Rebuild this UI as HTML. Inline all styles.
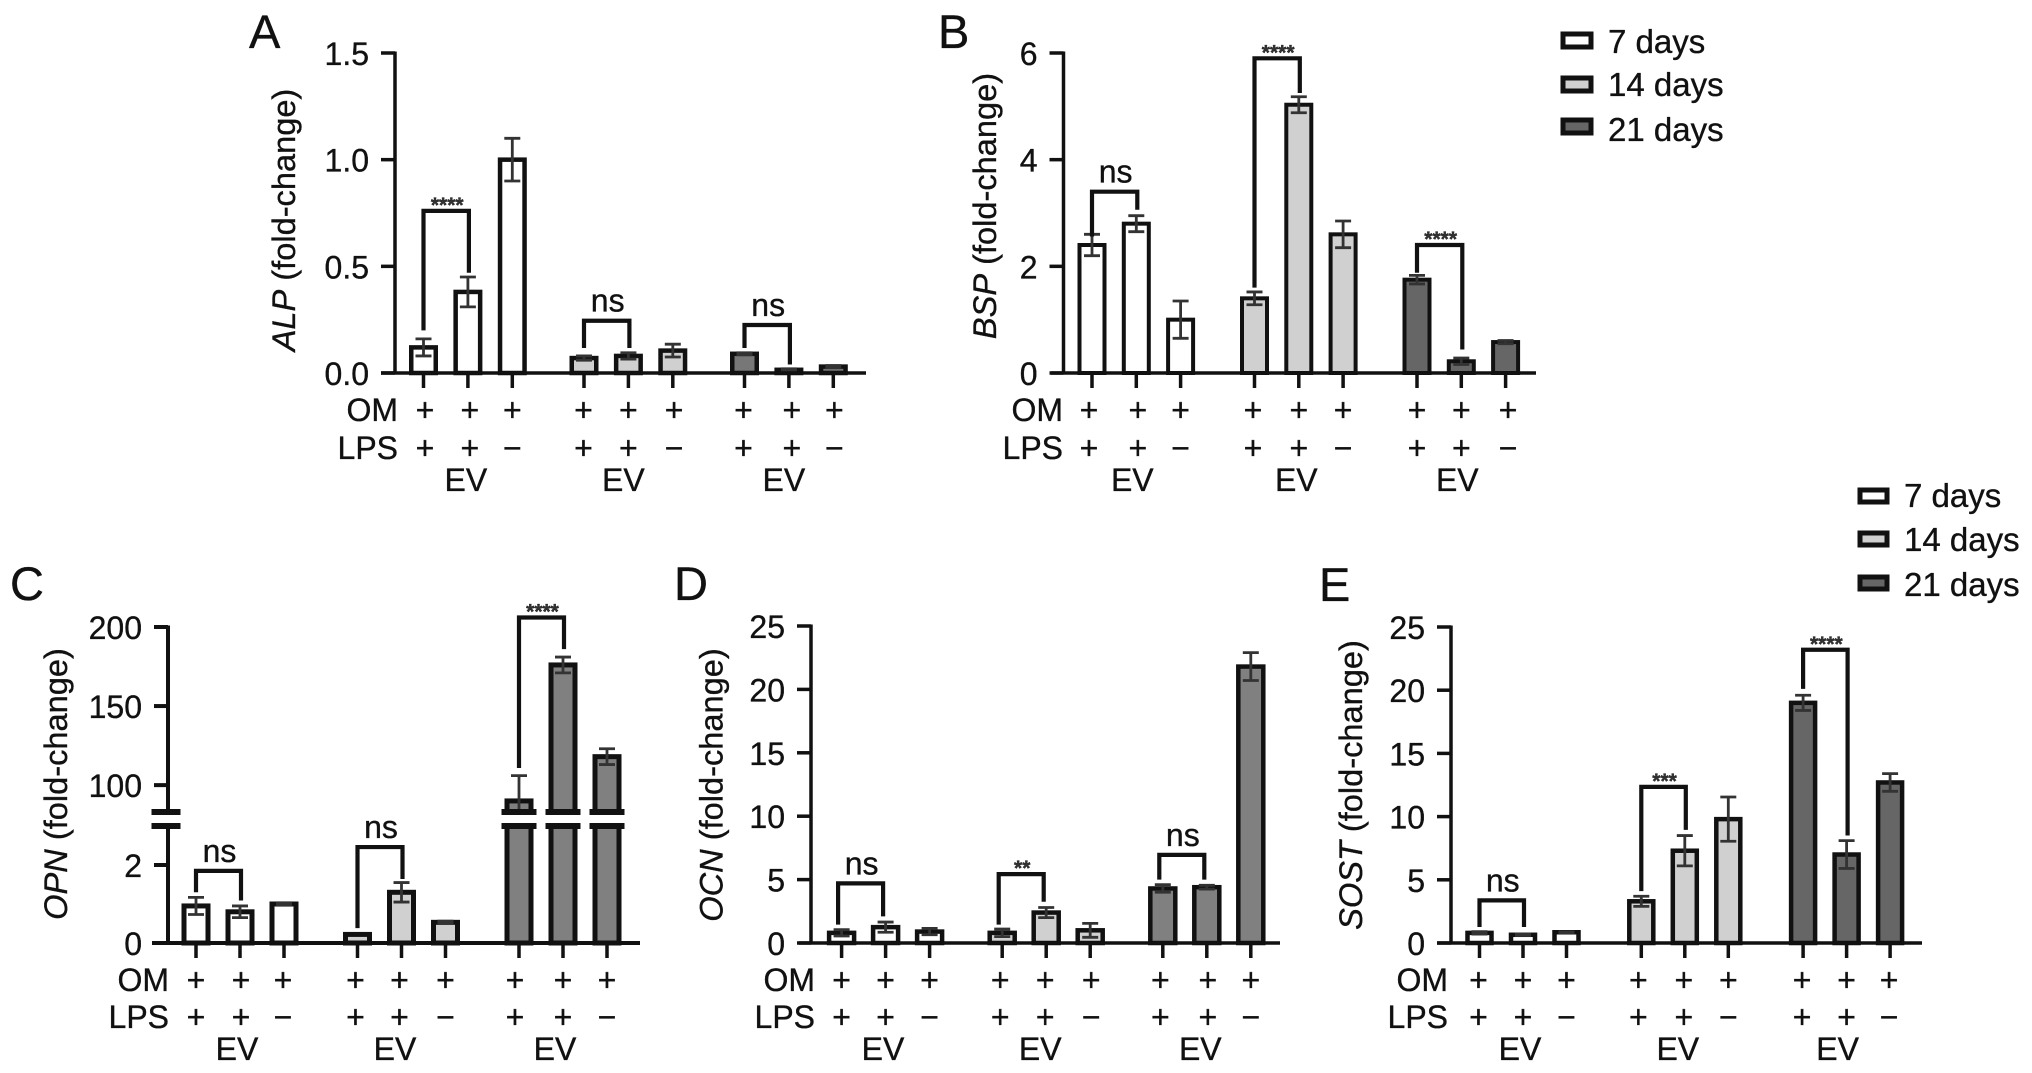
<!DOCTYPE html>
<html lang="en">
<head>
<meta charset="utf-8">
<title>Fold-change bar charts</title>
<style>
html,body{margin:0;padding:0;background:#fff;}
svg{display:block;}
text{font-family:"Liberation Sans",Arial,sans-serif;fill:#111;stroke:#111;stroke-width:.35px;}
</style>
</head>
<body>
<svg id="figure" width="2032" height="1073" viewBox="0 0 2032 1073" xmlns="http://www.w3.org/2000/svg">
  <rect x="0" y="0" width="2032" height="1073" fill="#fff"/>
  <g>
    <rect x="1563" y="34" width="28" height="13" fill="#fff" stroke="#111" stroke-width="5"/>
    <text x="1608" y="53" font-size="33">7 days</text>
    <rect x="1563" y="78" width="28" height="13" fill="#d0d0d0" stroke="#111" stroke-width="5"/>
    <text x="1608" y="96" font-size="33">14 days</text>
    <rect x="1563" y="120" width="28" height="13" fill="#666" stroke="#111" stroke-width="5"/>
    <text x="1608" y="141" font-size="33">21 days</text>
  </g>
  <g>
    <rect x="1860" y="490" width="27" height="12" fill="#fff" stroke="#111" stroke-width="5"/>
    <text x="1904" y="507" font-size="33">7 days</text>
    <rect x="1860" y="533" width="27" height="12" fill="#d0d0d0" stroke="#111" stroke-width="5"/>
    <text x="1904" y="551" font-size="33">14 days</text>
    <rect x="1860" y="577" width="27" height="12" fill="#666" stroke="#111" stroke-width="5"/>
    <text x="1904" y="596" font-size="33">21 days</text>
  </g>
</svg>
<script>
// ---------- Shared categories ----------
const omSigns = ['+','+','+','+','+','+','+','+','+'];
const lpsSigns = ['+','+','−','+','+','−','+','+','−'];
const groupLabels = ['EV','EV','EV'];

// ---------- Panel A: ALP ----------
const alpValues = [0.12,0.38,1.0,0.07,0.08,0.105,0.09,0.015,0.03];
const alpErrors = [0.04,0.07,0.1,0.01,0.015,0.03,0.005,0.005,0.005];
const alpTicks = [0,0.5,1.0,1.5];
const alpTickLabels = ['0.0','0.5','1.0','1.5'];
const alpBrackets = [[0,1,0.76,0.2,0.47,'****'],[3,4,0.245,0.117,0.117,'ns'],[6,7,0.225,0.117,0.04,'ns']];

// ---------- Panel B: BSP ----------
const bspValues = [2.4,2.8,1.0,1.4,5.03,2.6,1.75,0.22,0.58];
const bspErrors = [0.2,0.15,0.35,0.12,0.15,0.25,0.08,0.06,0.03];
const bspTicks = [0,2,4,6];
const bspTickLabels = ['0','2','4','6'];
const bspBrackets = [[0,1,3.4,2.56,3.06,'ns'],[3,4,5.9,1.6,5.25,'****'],[6,7,2.4,1.88,0.44,'****']];

// ---------- Panel C: OPN (broken axis) ----------
const opnValues = [0.95,0.8,1.0,0.22,1.3,0.53,90,176,118];
const opnErrors = [0.22,0.15,0.03,0,0.25,0.03,16,5,5];
const opnTicks = [0,2,100,150,200];
const opnTickLabels = ['0','2','100','150','200'];
const opnBrackets = [[0,1,1.85,1.3,1.09,'ns'],[3,4,2.46,0.38,1.64,'ns'],[6,7,206,110.8,186,'****']];

// ---------- Panel D: OCN ----------
const ocnValues = [0.8,1.25,0.9,0.8,2.4,1.0,4.3,4.4,21.8];
const ocnErrors = [0.25,0.4,0.25,0.3,0.4,0.55,0.3,0.15,1.1];
const ocnTicks = [0,5,10,15,20,25];
const ocnTickLabels = ['0','5','10','15','20','25'];
const ocnBrackets = [[0,1,4.7,1.45,2.1,'ns'],[3,4,5.43,1.45,3.25,'**'],[6,7,6.95,5,5,'ns']];

// ---------- Panel E: SOST ----------
const sostValues = [0.8,0.65,0.85,3.3,7.3,9.8,19,7,12.7];
const sostErrors = [0.1,0.05,0.03,0.4,1.2,1.75,0.6,1.1,0.7];
const sostTicks = [0,5,10,15,20,25];
const sostTickLabels = ['0','5','10','15','20','25'];
const sostBrackets = [[0,1,3.37,1.27,1.27,'ns'],[3,4,12.35,4.1,8.95,'***'],[6,7,23.2,20.1,8.5,'****']];

// ---------- Drawing ----------
const SVGNS = 'http://www.w3.org/2000/svg';
const figure = document.getElementById('figure');
const INK = '#111';

function make(parent, tag, attrs, content) {
  const el = document.createElementNS(SVGNS, tag);
  for (const k in attrs) el.setAttribute(k, attrs[k]);
  if (content !== undefined) el.textContent = content;
  parent.appendChild(el);
  return el;
}

function linearY(baseY, topY, maxV) {
  return v => baseY - (v / maxV) * (baseY - topY);
}

function brokenY(baseY, lowMax, lowTopY, highMin, highMinY, highMax, highMaxY) {
  return v => {
    if (v <= lowMax) return baseY - (v / lowMax) * (baseY - lowTopY);
    if (v >= highMin) return highMinY - ((v - highMin) / (highMax - highMin)) * (highMinY - highMaxY);
    return lowTopY - ((v - lowMax) / (highMin - lowMax)) * (lowTopY - highMinY);
  };
}

function drawPanel(p) {
  const g = make(figure, 'g', {});
  
  

  const xScale = i => p.x0 + (i % 3) * p.step + Math.floor(i / 3) * p.groupStep;
  const yScale = p.yScale;
  const base = yScale(0);
  const colors = ['#fff', '#d0d0d0', p.dark];

  const letter = make(g, 'text', {x: p.letterX, y: p.letterY, 'font-size': 47}, p.letter);
  
  

  // y axis title
  const title = make(g, 'text', {
    transform: 'translate(' + p.titleX + ' ' + p.titleY + ') rotate(-90)',
    'text-anchor': 'middle', 'font-size': 32.6
  });
  
  
  make(title, 'tspan', {'font-style': 'italic'}, p.gene);
  make(title, 'tspan', {}, ' (fold-change)');

  // bars
  p.values.forEach((v, i) => {
    const cx = xScale(i);
    const top = yScale(v);
    const w = p.barW;
    const bar = make(g, 'rect', {
      x: cx - w / 2, y: top, width: w, height: base - top,
      fill: colors[Math.floor(i / 3)], stroke: INK, 'stroke-width': p.barStroke
    });
    
    

    const e = p.errors[i];
    if (e > 0) {
      const err = make(g, 'path', {
        d: 'M' + cx + ' ' + yScale(v - e) + 'V' + yScale(v + e) +
           'M' + (cx - 8) + ' ' + yScale(v + e) + 'H' + (cx + 8) +
           'M' + (cx - 8) + ' ' + yScale(v - e) + 'H' + (cx + 8),
        fill: 'none', stroke: '#333', 'stroke-width': 2.8
      });
      
      
    }
  });

  // y axis and ticks
  const axisTop = yScale(p.ticks[p.ticks.length - 1]);
  const yAxis = make(g, 'line', {x1: p.axisX, x2: p.axisX, y1: axisTop - 1.5, y2: base, stroke: INK, 'stroke-width': p.axisStroke});
  
  

  p.ticks.forEach((t, i) => {
    const y = yScale(t);
    const tick = make(g, 'line', {x1: p.axisX - 14, x2: p.axisX, y1: y, y2: y, stroke: INK, 'stroke-width': p.axisStroke});
    
    
    const label = make(g, 'text', {x: p.axisX - 26, y: y + 12, 'text-anchor': 'end', 'font-size': 32}, p.tickLabels[i]);
    
    
  });

  // axis break (upper-lower gap on axis and tall bars)
  if (p.breakLow !== undefined) {
    const yHi = yScale(p.breakHigh);
    const yLo = yScale(p.breakLow);
    const drawBreak = (cx, w, name) => {
      const gap = make(g, 'rect', {x: cx - w / 2 - 1, y: yHi, width: w + 2, height: yLo - yHi, fill: '#fff'});
      
      
      const hi = make(g, 'rect', {x: cx - w / 2, y: yHi - 3, width: w, height: 6, fill: INK});
      
      
      const lo = make(g, 'rect', {x: cx - w / 2, y: yLo - 3, width: w, height: 6, fill: INK});
      
      
    };
    drawBreak(p.axisX - 2, 29, 'axis-break');
    p.values.forEach((v, i) => {
      if (v > p.breakHigh) drawBreak(xScale(i), 35, 'bar-break');
    });
  }

  // x axis and ticks
  const xAxis = make(g, 'line', {x1: p.axisLeft, x2: p.axisRight, y1: base, y2: base, stroke: INK, 'stroke-width': p.axisStroke});
  
  

  p.values.forEach((v, i) => {
    const cx = xScale(i);
    const tick = make(g, 'line', {x1: cx, x2: cx, y1: base, y2: base + 15, stroke: INK, 'stroke-width': 3.5});
    
    

    const om = make(g, 'text', {x: cx + p.signShift[i], y: p.omY, 'text-anchor': 'middle', 'font-size': 32}, omSigns[i]);
    
    

    const lps = make(g, 'text', {x: cx + p.signShift[i], y: p.lpsY, 'text-anchor': 'middle', 'font-size': 32}, lpsSigns[i]);
    
    
  });

  const omLabel = make(g, 'text', {x: p.rowRight, y: p.omY, 'text-anchor': 'end', 'font-size': 32}, 'OM');
  
  
  const lpsLabel = make(g, 'text', {x: p.rowRight, y: p.lpsY, 'text-anchor': 'end', 'font-size': 32}, 'LPS');
  
  

  groupLabels.forEach((lab, gi) => {
    const cx = xScale(gi * 3 + 1) + p.evShift[gi];
    const ev = make(g, 'text', {x: cx, y: p.evY, 'text-anchor': 'middle', 'font-size': 32}, lab);
    
    
  });

  // significance brackets
  p.brackets.forEach(b => {
    const xa = xScale(b[0]) + p.bracketShift;
    const xb = xScale(b[1]) + p.bracketShift + 1;
    const yt = yScale(b[2]);
    const br = make(g, 'path', {
      d: 'M' + xa + ' ' + yScale(b[3]) + 'V' + yt + 'H' + xb + 'V' + yScale(b[4]),
      fill: 'none', stroke: INK, 'stroke-width': 4.2, 'stroke-linejoin': 'miter'
    });
    
    

    const isNs = b[5] === 'ns';
    const mark = make(g, 'text', {
      x: (xa + xb) / 2 + 1,
      y: isNs ? yt - 9 : yt + 1,
      'text-anchor': 'middle',
      'font-size': isNs ? 32 : 21,
      'font-weight': isNs ? 'normal' : 'bold'
    }, b[5]);
    if (!isNs) mark.style.fill = '#333';
    
    
  });
}

drawPanel({
  id: 'a', letter: 'A', letterX: 249, letterY: 48, gene: 'ALP', titleX: 295, titleY: 220,
  values: alpValues, errors: alpErrors, ticks: alpTicks, tickLabels: alpTickLabels, brackets: alpBrackets,
  yScale: linearY(373, 53, 1.5), axisX: 395, axisLeft: 381, axisRight: 866,
  x0: 423.5, step: 44.4, groupStep: 160.5, barW: 24.5, barStroke: 4.5, axisStroke: 3.5, dark: '#777',
  signShift: [1.5,2,0,-0.5,0,1.3,-1,3,1], evShift: [-2,-5,-5],
  rowRight: 398, omY: 421, lpsY: 459, evY: 491, bracketShift: 0
});
drawPanel({
  id: 'b', letter: 'B', letterX: 938, letterY: 48, gene: 'BSP', titleX: 996, titleY: 206,
  values: bspValues, errors: bspErrors, ticks: bspTicks, tickLabels: bspTickLabels, brackets: bspBrackets,
  yScale: linearY(373, 53, 6), axisX: 1063.5, axisLeft: 1051, axisRight: 1536,
  x0: 1092, step: 44.3, groupStep: 162.5, barW: 25, barStroke: 4, axisStroke: 3.5, dark: '#666',
  signShift: [-3,1.5,0,-1.5,0,0,0,0,2.5], evShift: [-4,-2.5,-4],
  rowRight: 1063, omY: 421, lpsY: 459, evY: 491, bracketShift: 0
});
drawPanel({
  id: 'c', letter: 'C', letterX: 10, letterY: 600, gene: 'OPN', titleX: 67, titleY: 784,
  values: opnValues, errors: opnErrors, ticks: opnTicks, tickLabels: opnTickLabels, brackets: opnBrackets,
  yScale: brokenY(943, 3, 826, 83, 812, 200, 627), axisX: 168, axisLeft: 152, axisRight: 640,
  x0: 196, step: 44, groupStep: 161.5, barW: 24, barStroke: 5, axisStroke: 4, dark: '#808080',
  breakLow: 3, breakHigh: 83,
  signShift: [0,1,-1,-2,-2,0,-4,0,0], evShift: [-3,-6.5,-8],
  rowRight: 169, omY: 991, lpsY: 1028, evY: 1060, bracketShift: 0
});
drawPanel({
  id: 'd', letter: 'D', letterX: 674, letterY: 600, gene: 'OCN', titleX: 722.5, titleY: 785,
  values: ocnValues, errors: ocnErrors, ticks: ocnTicks, tickLabels: ocnTickLabels, brackets: ocnBrackets,
  yScale: linearY(943, 626, 25), axisX: 811, axisLeft: 799, axisRight: 1280,
  x0: 841.6, step: 44, groupStep: 160.6, barW: 25, barStroke: 4.5, axisStroke: 3.5, dark: '#808080',
  signShift: [0,0,0,-2,-1,1,-2.5,1,0], evShift: [-2.6,-6,-6.5],
  rowRight: 815, omY: 991, lpsY: 1028, evY: 1060, bracketShift: -3.5
});
drawPanel({
  id: 'e', letter: 'E', letterX: 1319, letterY: 601, gene: 'SOST', titleX: 1362, titleY: 785,
  values: sostValues, errors: sostErrors, ticks: sostTicks, tickLabels: sostTickLabels, brackets: sostBrackets,
  yScale: linearY(943, 627, 25), axisX: 1451, axisLeft: 1437, axisRight: 1922,
  x0: 1479.5, step: 43.5, groupStep: 161.8, barW: 24, barStroke: 4.5, axisStroke: 3.5, dark: '#666',
  signShift: [-1,0,0,-3,-1,0,-1,0,-1], evShift: [-3,-7,-9],
  rowRight: 1448, omY: 991, lpsY: 1028, evY: 1060, bracketShift: 0
});
</script>
</body>
</html>
